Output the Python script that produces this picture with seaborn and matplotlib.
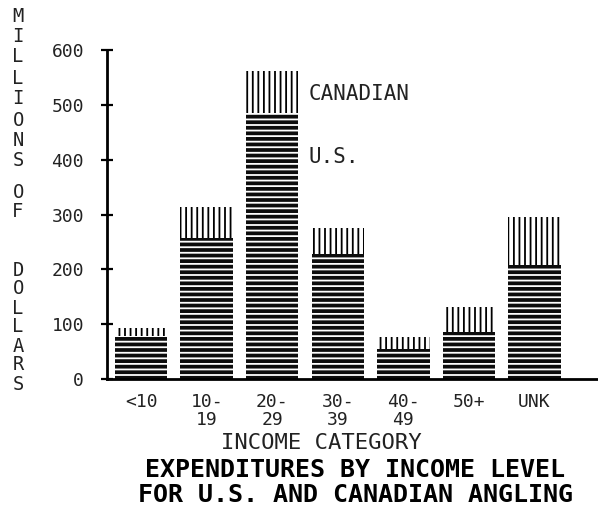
import matplotlib
matplotlib.use("Agg")
import matplotlib.pyplot as plt
import seaborn as sns
import pandas as pd

categories = ["<10", "10-\n19", "20-\n29", "30-\n39", "40-\n49", "50+", "UNK"]
us_values = [78, 257, 485, 228, 55, 86, 208]
canadian_values = [15, 57, 77, 47, 22, 45, 88]
y_ticks = [0, 100, 200, 300, 400, 500, 600]
y_label_letters = list("MILLIONS") + list("OF") + list("DOLLARS")
y_label_pos_px = [17, 37, 57, 78, 99, 120, 141, 161, 193, 212, 270, 289, 308, 327, 346, 365, 384]
title_lines = ["EXPENDITURES BY INCOME LEVEL", "FOR U.S. AND CANADIAN ANGLING"]

totals = [u + c for u, c in zip(us_values, canadian_values)]
df = pd.DataFrame({"cat": categories, "us": us_values, "total": totals})

sns.set_theme(style="white")
plt.rcParams["font.family"] = ["DejaVu Sans Mono", "DejaVu Sans"]
plt.rcParams["hatch.linewidth"] = 1.3

W, H = 598, 508
fig = plt.figure(figsize=(W / 100, H / 100), dpi=100)
ax = fig.add_axes([107 / W, 1 - 379 / H, 1 - 107 / W, (379 - 50) / H])

sns.barplot(data=df, x="cat", y="total", order=categories, color="white",
            width=0.8, ax=ax, saturation=1)
n = len(categories)
for p in ax.patches[:n]:
    p.set_facecolor("white")
    p.set_edgecolor("black")
    p.set_hatch("|||")
    p.set_linewidth(0)

sns.barplot(data=df, x="cat", y="us", order=categories, color="black",
            width=0.8, ax=ax, saturation=1)
for p in ax.patches[n:]:
    p.set_facecolor("#0d0d0d")
    p.set_edgecolor("white")
    p.set_hatch("---")
    p.set_linewidth(0)

ax.set_xlim(-0.52, 6.97)
ax.set_ylim(0, 600)
ax.set_yticks(y_ticks)
ax.set_yticklabels([str(v) for v in y_ticks], fontsize=13, color="#222222")
ax.set_xticks(range(n))
ax.set_xticklabels(categories, fontsize=13, color="#222222", linespacing=1.0)
ax.tick_params(axis="x", length=0, pad=10)
ax.tick_params(axis="y", direction="inout", length=9, width=1.6, color="black", pad=12, left=True)
ax.set_xlabel("")
ax.set_ylabel("")
for s in ["top", "right"]:
    ax.spines[s].set_visible(False)
for s in ["left", "bottom"]:
    ax.spines[s].set_visible(True)
    ax.spines[s].set_color("black")
    ax.spines[s].set_linewidth(2)

ax.text(2.55, 520, "CANADIAN", fontsize=15, ha="left", va="center", color="#222222")
ax.text(2.55, 405, "U.S.", fontsize=15, ha="left", va="center", color="#222222")

for ch, ypx in zip(y_label_letters, y_label_pos_px):
    fig.text(18 / W, 1 - ypx / H, ch, fontsize=13.5, ha="center", va="center", color="#222222")

fig.text(321 / W, 1 - 443 / H, "INCOME CATEGORY", fontsize=16, ha="center", va="center", color="#222222")
for line, ypx in zip(title_lines, [470, 495.5]):
    fig.text(355 / W, 1 - ypx / H, line, fontsize=18, fontweight="bold",
             ha="center", va="center", color="black")

fig.savefig("out.png", dpi=100, facecolor="white")
